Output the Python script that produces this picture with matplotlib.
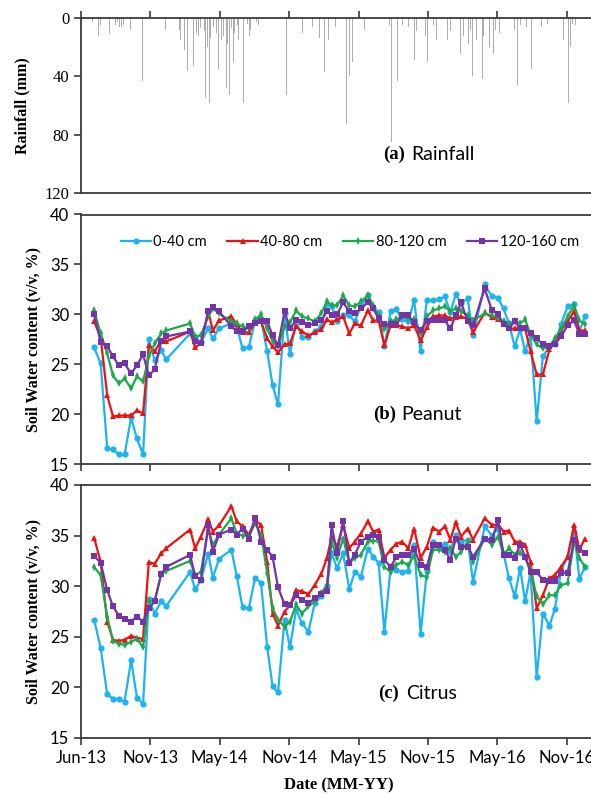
import matplotlib
matplotlib.use("Agg")
import matplotlib.pyplot as plt
import matplotlib.dates as mdates
import pandas as pd
import numpy as np

# ---------------- data ----------------
start = pd.Timestamp("2013-06-01")

# measurement dates, days after 2013-06-01
meas_days = [34, 51, 68, 83, 98, 113, 130, 145, 161, 176, 191, 208, 221, 283, 296, 311, 330, 342, 358, 390,
             404, 419, 435, 452, 467, 483, 497, 511, 528, 542, 558, 573, 590, 606, 623, 638, 650, 664, 680, 696,
             710, 726, 744, 758, 772, 787, 803, 818, 833, 849, 864, 881, 897, 913, 929, 944, 958, 972, 986, 1003,
             1017, 1047, 1066, 1082, 1096, 1110, 1125, 1139, 1152, 1166, 1182, 1198, 1215, 1229, 1245, 1262, 1279, 1293, 1307]

series_names = ["0-40 cm", "40-80 cm", "80-120 cm", "120-160 cm"]

# (b) Peanut
peanut_0_40 = [26.7, 25.1, 16.6, 16.5, 16.0, 16.0, 19.7, 17.6, 16.0, 27.5, 25.4, 26.4, 25.5, 28.1, 27.6, 27.2, 28.6, 27.6, 28.6, 29.1,
               28.8, 26.6, 26.7, 29.4, 29.5, 26.3, 22.9, 21.0, 30.1, 26.0, 29.4, 27.7, 27.7, 28.3, 28.8, 31.0, 30.8, 29.3, 29.9, 29.9,
               29.3, 30.8, 31.9, 30.6, 30.2, 26.8, 30.3, 30.5, 29.5, 29.3, 31.4, 26.3, 31.4, 31.4, 31.5, 31.8, 30.2, 32.0, 31.1, 31.6,
               27.9, 33.0, 31.8, 31.6, 30.6, 29.1, 26.8, 28.5, 26.3, 28.0, 19.3, 25.8, 26.8, 27.0, 29.0, 30.8, 31.0, 28.3, 29.8]
peanut_40_80 = [29.3, 27.7, 21.9, 19.8, 19.9, 19.9, 19.9, 20.4, 20.1, 26.9, 26.3, 27.4, 27.3, 28.3, 26.7, 27.1, 30.3, 28.4, 29.4, 29.8,
                29.0, 28.2, 28.2, 29.2, 29.3, 27.6, 26.8, 26.2, 27.0, 27.1, 28.8, 28.3, 27.9, 28.2, 28.5, 29.5, 29.2, 29.5, 29.8, 28.1,
                29.1, 28.9, 30.4, 29.4, 29.4, 26.9, 28.9, 28.9, 28.8, 28.6, 28.9, 27.4, 28.7, 29.8, 29.9, 29.9, 29.6, 29.7, 29.8, 29.5,
                28.2, 30.2, 29.7, 29.5, 29.1, 28.6, 28.6, 28.6, 28.6, 26.3, 24.0, 24.0, 26.5, 27.3, 28.4, 29.3, 30.3, 28.4, 28.4]
peanut_80_120 = [30.4, 28.1, 26.1, 23.9, 23.1, 23.6, 22.6, 23.8, 23.3, 25.8, 27.1, 28.1, 28.4, 29.1, 27.8, 27.9, 29.8, 30.6, 30.1, 29.3,
                 29.1, 28.8, 28.6, 29.5, 30.0, 28.6, 27.3, 26.8, 28.8, 29.2, 30.4, 29.8, 29.6, 29.3, 30.1, 31.3, 30.9, 30.9, 31.9, 30.9,
                 30.8, 31.3, 31.9, 30.9, 29.8, 28.5, 29.3, 29.5, 29.8, 29.6, 29.5, 28.1, 29.8, 30.4, 30.6, 30.8, 30.3, 30.6, 30.3, 29.9,
                 29.4, 30.1, 29.9, 29.6, 29.3, 29.0, 29.3, 29.1, 29.5, 28.0, 27.0, 26.6, 26.8, 27.6, 28.5, 29.8, 30.9, 29.4, 29.0]
peanut_120_160 = [30.0, 27.2, 26.8, 25.8, 24.9, 25.1, 24.1, 24.9, 26.0, 23.9, 24.5, 27.3, 27.8, 28.3, 27.3, 27.1, 30.3, 30.7, 30.3, 28.8,
                  28.3, 28.3, 28.8, 29.1, 29.3, 29.3, 27.9, 26.9, 30.3, 28.6, 29.4, 29.2, 28.9, 29.1, 29.4, 30.3, 29.9, 30.0, 31.2, 30.3,
                  30.1, 30.6, 31.2, 30.6, 29.6, 29.0, 29.0, 29.0, 29.9, 29.9, 29.2, 28.4, 29.3, 29.4, 29.4, 29.4, 28.6, 29.9, 31.2, 29.3,
                  28.9, 32.6, 30.4, 30.0, 29.0, 28.6, 29.3, 28.6, 28.6, 28.1, 27.6, 27.0, 26.8, 27.0, 27.8, 28.9, 29.4, 28.0, 28.0]

# (c) Citrus
citrus_0_40 = [26.7, 23.9, 19.3, 18.9, 18.85, 18.6, 22.7, 19.0, 18.35, 28.75, 27.3, 28.5, 28.05, 31.4, 29.7, 30.6, 33.2, 30.85, 32.7, 33.6,
               31.0, 27.9, 27.8, 30.85, 30.3, 23.95, 20.1, 19.5, 26.7, 23.95, 27.7, 26.35, 25.5, 28.3, 29.0, 30.0, 33.25, 31.8, 33.25, 29.7,
               31.4, 30.95, 33.7, 32.9, 32.3, 25.5, 31.8, 31.6, 31.4, 31.5, 34.1, 25.3, 31.5, 34.4, 33.9, 34.2, 33.5, 35.1, 34.4, 34.6,
               30.4, 35.9, 35.0, 35.7, 33.25, 30.8, 29.0, 31.8, 28.5, 31.4, 21.0, 27.3, 26.1, 27.7, 31.5, 32.9, 35.4, 30.7, 31.9]
citrus_40_80 = [34.8, 32.4, 26.5, 24.7, 24.6, 24.7, 25.1, 24.9, 24.8, 32.4, 32.2, 33.25, 33.75, 35.6, 33.75, 34.9, 36.6, 35.4, 36.0, 37.9,
                36.4, 35.9, 35.1, 36.5, 36.05, 32.4, 27.3, 26.1, 27.5, 28.1, 29.6, 29.5, 29.2, 30.1, 31.2, 32.8, 34.9, 33.9, 36.05, 33.75,
                34.4, 35.2, 36.4, 35.4, 35.6, 32.8, 33.6, 34.2, 34.4, 33.75, 35.7, 32.8, 33.9, 35.8, 35.4, 35.9, 34.6, 36.3, 34.9, 35.7,
                34.6, 36.7, 36.05, 36.1, 35.4, 35.5, 34.4, 34.4, 34.1, 32.4, 27.8, 29.1, 30.8, 31.1, 31.9, 32.9, 36.05, 33.6, 34.7]
citrus_80_120 = [31.9, 31.1, 27.0, 24.6, 24.3, 24.2, 24.5, 24.8, 23.95, 28.5, 28.55, 31.2, 31.5, 32.5, 31.1, 31.4, 35.6, 34.1, 35.1, 36.7,
                 35.2, 35.0, 35.0, 36.2, 35.1, 31.3, 27.8, 26.7, 26.0, 26.5, 28.2, 27.3, 28.0, 28.5, 29.3, 30.1, 34.4, 32.8, 34.7, 32.3,
                 32.8, 33.1, 34.4, 34.5, 34.4, 31.9, 31.4, 32.1, 32.4, 32.1, 33.0, 31.1, 30.9, 33.6, 33.6, 33.4, 33.8, 32.9, 33.4, 34.4,
                 32.4, 34.7, 34.1, 34.9, 33.1, 33.75, 33.1, 33.25, 32.9, 31.6, 29.0, 28.2, 29.1, 29.1, 30.1, 30.3, 34.4, 32.8, 31.9]
citrus_120_160 = [33.0, 32.3, 29.6, 28.0, 27.1, 26.8, 26.5, 27.0, 26.5, 27.8, 28.5, 31.2, 31.9, 33.1, 31.0, 30.6, 36.05, 33.4, 35.1, 35.6,
                  35.1, 35.7, 34.7, 36.7, 34.4, 33.6, 32.9, 29.9, 28.2, 28.1, 29.1, 28.65, 28.3, 28.8, 29.2, 29.5, 36.05, 33.25, 36.4, 32.3,
                  33.1, 34.4, 34.9, 35.1, 34.9, 32.6, 31.9, 32.9, 33.1, 33.1, 33.7, 32.1, 31.9, 34.1, 34.1, 33.6, 32.6, 34.7, 33.9, 33.9,
                  32.9, 34.7, 34.6, 36.5, 33.1, 33.1, 32.8, 34.1, 32.9, 31.4, 31.4, 30.6, 30.5, 30.5, 31.3, 31.3, 34.6, 33.75, 33.25]

# (a) daily rainfall events: day after 2013-06-01 and mm
rain_day = [30, 45, 50, 60, 74, 80, 90, 95, 100, 105, 110, 117, 125, 128, 140, 160, 168, 195, 219,
            247, 252, 255, 258, 262, 265, 268, 272, 276, 280, 285, 288, 292, 296, 300, 305, 310, 317, 320,
            323, 328, 333, 336, 340, 344, 347, 350, 352, 357, 360, 364, 368, 370, 373, 378, 380, 385, 390,
            395, 398, 402, 406, 409, 415, 421, 425, 428, 432, 437, 440, 449, 455, 461,
            511, 533, 547, 568, 575, 592, 600, 607, 615, 619, 623, 628, 632, 636, 642, 648, 656, 660, 666,
            672, 680, 685, 689, 692, 697, 700, 704, 708, 711, 713, 716, 718, 721, 723, 726, 729, 735, 742,
            750, 760, 775, 786, 794, 800, 806, 812, 821, 828, 834, 840, 850, 856, 865, 870, 880, 885, 893,
            899, 908, 914, 922, 928, 937, 944, 951, 958, 963, 970, 984, 992, 999, 1005, 1010, 1015, 1019,
            1022, 1026, 1030, 1032, 1035, 1038, 1041, 1044, 1046, 1050, 1053, 1056, 1060, 1064, 1070, 1075,
            1081, 1085, 1089, 1095, 1100, 1108, 1115, 1125, 1132, 1140, 1146, 1155, 1160, 1169, 1175, 1185,
            1195, 1203, 1210, 1222, 1230, 1240, 1251, 1255, 1260, 1265, 1270, 1275, 1283]
rain_mm = [3, 12, 5, 4, 11, 7, 5, 3, 6, 6, 5, 4, 3, 8, 4, 43, 27, 52, 8,
           24, 35, 8, 15, 34, 12, 22, 6, 36, 18, 30, 9, 33, 5, 10, 12, 7, 20, 9,
           55, 20, 58, 14, 60, 6, 40, 22, 10, 35, 8, 15, 25, 12, 47, 48, 18, 53, 7,
           30, 10, 25, 5, 15, 9, 58, 6, 10, 4, 12, 8, 23, 3, 5,
           20, 53, 5, 31, 10, 5, 6, 4, 10, 14, 25, 38, 37, 8, 15, 10, 20, 6, 22,
           12, 30, 10, 73, 18, 40, 12, 30, 55, 9, 60, 25, 67, 15, 65, 12, 97, 8, 23,
           6, 4, 20, 50, 42, 5, 85, 4, 43, 8, 5, 5, 6, 10, 29, 9, 32, 6, 12,
           30, 25, 5, 15, 8, 20, 6, 15, 9, 10, 4, 25, 12, 30, 18, 8, 40, 20,
           30, 15, 10, 45, 70, 22, 42, 12, 97, 18, 43, 9, 20, 14, 25, 8,
           52, 10, 48, 5, 6, 10, 4, 8, 46, 5, 10, 6, 50, 35, 4, 5,
           6, 10, 4, 28, 5, 8, 15, 6, 40, 58, 20, 4, 5]

# ---------------- figure ----------------
W, H = 591, 798
fig = plt.figure(figsize=(W / 100, H / 100), dpi=100)

def rect(l, t, r, b):
    return [l / W, 1 - b / H, (r - l) / W, (b - t) / H]

x_left, x_right = 81, 81 + 516.6
ax_a = fig.add_axes(rect(x_left, 18, x_right, 193))
ax_b = fig.add_axes(rect(x_left, 214.5, x_right, 464.5))
ax_c = fig.add_axes(rect(x_left, 485, x_right, 738))

SANS = ["Lato", "DejaVu Sans"]
SERIF = ["Liberation Serif", "DejaVu Serif"]
spine_col = "#3a3a3a"

meas_dates = start + pd.to_timedelta(meas_days, unit="D")
rain_dates = start + pd.to_timedelta(rain_day, unit="D")
xmin, xmax = start, start + pd.Timedelta(days=1340)
tick_dates = [start + pd.Timedelta(days=180 * k) for k in range(8)]

for ax in (ax_a, ax_b, ax_c):
    ax.set_xlim(xmin, xmax)
    ax.set_xticks(tick_dates)
    ax.xaxis.set_major_formatter(mdates.DateFormatter("%b-%y"))
    for s in ax.spines.values():
        s.set_color(spine_col)
        s.set_linewidth(1.3)
    ax.tick_params(direction="out", length=5, width=1.2, color=spine_col)

# rainfall
ax_a.bar(rain_dates, rain_mm, width=1.2, color="#9a9a9a", linewidth=0, alpha=0.8)
ax_a.set_ylim(120, 0)
ax_a.set_yticks([0, 40, 80, 120])
ax_a.xaxis.tick_top()
ax_a.tick_params(axis="x", labeltop=False, labelbottom=False)
for lab in ax_a.get_yticklabels():
    lab.set_family(SERIF)
    lab.set_fontsize(12)
ax_a.set_ylabel("Rainfall (mm)", family=SERIF, fontweight="bold", fontsize=11.5, labelpad=10)
ax_a.text(0.585, 0.22, "(a)", transform=ax_a.transAxes, family=SERIF, fontweight="bold", fontsize=13.5, va="center")
ax_a.text(0.64, 0.22, "Rainfall", transform=ax_a.transAxes, family=SANS, fontsize=14, va="center")

styles = [
    dict(color="#1BB4EE", marker="o", markersize=4.5),
    dict(color="#EE1111", marker="^", markersize=5),
    dict(color="#1BAA4A", marker="d", markersize=4),
    dict(color="#7434A8", marker="s", markersize=5),
]

def draw_panel(ax, vals, label_letter, label_text, text_xy):
    for name, v, st in zip(series_names, vals, styles):
        ax.plot(meas_dates, v, label=name, linewidth=1.6, markeredgewidth=0,
                color=st["color"], marker=st["marker"], markersize=st["markersize"])
    ax.set_ylim(15, 40)
    ax.set_yticks([15, 20, 25, 30, 35, 40])
    for lab in ax.get_yticklabels():
        lab.set_family(SANS)
        lab.set_fontsize(12)
    ax.set_ylabel("Soil Water content (v/v, %)", family=SERIF, fontweight="bold", fontsize=11.5, labelpad=6)
    ax.text(text_xy[0], text_xy[1], label_letter, transform=ax.transAxes, family=SERIF,
            fontweight="bold", fontsize=13.5, va="center")
    ax.text(text_xy[0] + 0.055, text_xy[1], label_text, transform=ax.transAxes, family=SANS,
            fontsize=14, va="center")

draw_panel(ax_b, [peanut_0_40, peanut_40_80, peanut_80_120, peanut_120_160], "(b)", "Peanut", (0.565, 0.2))
draw_panel(ax_c, [citrus_0_40, citrus_40_80, citrus_80_120, citrus_120_160], "(c)", "Citrus", (0.575, 0.175))

ax_b.tick_params(axis="x", labelbottom=False)
for lab in ax_c.get_xticklabels():
    lab.set_family(SANS)
    lab.set_fontsize(12)
ax_c.set_xlabel("Date (MM-YY)", family=SERIF, fontweight="bold", fontsize=12, labelpad=8)

leg = ax_b.legend(ncol=4, loc="center", bbox_to_anchor=(0.52, 0.89), frameon=False,
                  handlelength=2.1, columnspacing=1.4, handletextpad=0.15,
                  prop={"family": SANS, "size": 10.5})

fig.savefig("out.png", dpi=100)
